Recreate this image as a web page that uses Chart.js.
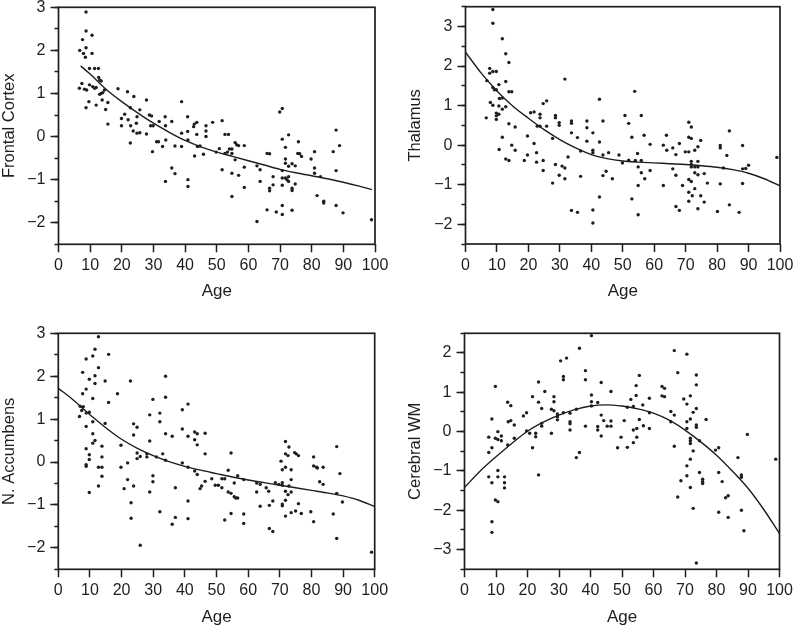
<!DOCTYPE html>
<html><head><meta charset="utf-8">
<script src="https://cdn.jsdelivr.net/npm/chart.js@4/dist/chart.umd.min.js"></script>
<style>
body{margin:0;background:#fff;width:794px;height:627px;position:relative;overflow:hidden}
canvas{position:absolute;display:block}
</style></head><body>
<canvas id="c1" width="406" height="313" style="left:0;top:0"></canvas>
<canvas id="c2" width="388" height="313" style="left:406px;top:0"></canvas>
<canvas id="c3" width="406" height="314" style="left:0;top:313px"></canvas>
<canvas id="c4" width="388" height="314" style="left:406px;top:313px"></canvas>
<script>
// ---------- DATA (age, z-score) ----------
const frontalPoints = [[8.7,2.89],[8.7,2.45],[7.6,2.25],[10.6,2.35],[6.7,2.0],[8.7,2.06],[7.9,1.93],[8.5,1.84],[10.6,1.93],[9.8,1.58],[11.4,1.58],[12.6,1.58],[6.6,1.12],[7.4,1.23],[8.2,1.10],[8.9,1.08],[9.8,1.20],[10.8,1.16],[11.4,1.12],[11.9,1.14],[9.6,0.81],[8.7,0.67],[11.9,0.73],[12.7,1.37],[13.0,1.31],[13.5,1.29],[13.0,0.98],[13.5,1.00],[14.0,1.02],[14.5,1.08],[13.8,0.85],[14.9,0.63],[15.6,0.79],[15.6,0.29],[18.8,1.11],[21.8,1.04],[23.8,0.93],[19.9,0.42],[20.9,0.52],[22.0,0.39],[22.7,0.67],[19.9,0.25],[22.8,0.25],[23.6,0.13],[22.7,-0.15],[24.8,0.46],[24.6,0.31],[24.8,0.08],[25.7,0.09],[25.7,0.62],[27.8,0.85],[27.8,0.06],[28.7,0.50],[29.4,0.48],[29.9,0.25],[29.1,0.25],[29.7,-0.35],[31.0,-0.12],[31.6,-0.12],[31.8,0.35],[32.9,-0.23],[33.7,0.46],[33.8,0.25],[33.9,-0.08],[33.8,-1.04],[35.8,0.35],[35.8,-0.73],[36.8,-0.86],[36.8,-0.22],[38.9,0.81],[38.9,0.08],[38.9,-0.23],[40.8,0.46],[40.8,0.12],[40.9,-0.08],[40.9,-1.00],[40.9,-1.16],[42.7,0.23],[42.9,0.29],[43.0,-0.45],[43.7,0.33],[43.7,0.05],[43.9,-0.23],
[46.6,0.25],[46.6,0.13],[46.6,0.0],[44.7,-0.22],[45.8,-0.41],[48.7,0.33],[49.8,-0.36],[50.8,-0.28],[51.7,0.37],[51.7,-0.77],[52.6,0.05],[53.7,0.05],[52.6,-0.39],[53.4,-0.36],[54.0,-0.29],[54.8,-0.29],[54.8,-0.39],[54.8,-0.85],[54.8,-1.39],[55.8,-0.14],[56.3,-0.19],[56.9,-0.21],[55.8,-0.54],[56.9,-0.90],[58.7,-0.21],[58.7,-0.71],[58.7,-1.18],[62.7,-0.68],[63.7,-0.77],[63.7,-1.04],[62.7,-1.97],[65.9,-1.70],[65.9,-0.39],[66.7,-0.40],[66.7,-1.20],[66.7,-1.26],[67.8,-0.93],[67.8,-1.12],[68.8,-1.75],[69.9,0.57],[70.7,0.65],[70.7,-0.06],[70.7,-0.79],[70.7,-0.96],[70.7,-1.13],[70.7,-1.60],[70.7,-1.81],[71.7,-0.25],[71.7,-0.52],[71.7,-0.62],[71.7,-0.96],[72.2,-1.00],[72.7,0.04],[72.7,-0.69],[72.7,-0.93],[72.7,-1.04],[73.8,-0.63],[73.8,-1.20],[73.8,-1.25],[73.8,-1.71],[74.8,-0.68],[74.8,-1.10],[75.8,-0.12],[75.6,-0.39],[76.2,-0.40],[76.8,-0.46],[79.8,-0.52],[80.9,-0.35],[80.9,-0.73],[80.9,-0.85],[81.7,-1.37],[82.8,-0.93],[83.8,-1.50],[83.8,-1.54],[86.8,-0.35],[87.7,0.15],[87.7,-0.79],[87.7,-1.60],[88.8,-0.21],[89.9,-1.77],[98.9,-1.93]];
const frontalFitAge = [7,10,15,20,25,30,35,40,45,50,55,60,65,70,75,80,85,90,95,99];
const frontalFitValue = [1.64,1.45,1.10,0.81,0.55,0.31,0.10,-0.09,-0.24,-0.36,-0.46,-0.56,-0.66,-0.76,-0.84,-0.91,-0.98,-1.06,-1.15,-1.23];

const thalamusPoints = [[8.7,3.43],[8.7,3.08],[11.7,2.69],[12.8,2.31],[13.8,2.09],[7.7,1.94],[7.7,1.82],[8.7,1.86],[9.8,1.86],[6.8,1.63],[12.8,1.61],[8.7,1.46],[9.2,1.40],[9.8,1.40],[10.6,1.53],[13.8,1.35],[14.7,1.35],[10.8,1.18],[11.7,1.19],[7.9,1.08],[8.7,1.01],[10.6,0.99],[11.7,0.91],[12.8,0.97],[9.8,0.81],[9.8,0.74],[10.6,0.78],[6.6,0.69],[9.8,0.65],[13.8,0.54],[15.8,0.46],[11.7,0.20],[10.7,-0.11],[14.7,0.0],[15.8,-0.13],[12.8,-0.35],[13.8,-0.39],[18.7,-0.39],[19.7,0.23],[19.7,-0.25],[20.7,0.82],[21.8,0.84],[21.8,0.04],[22.6,-0.19],[22.6,-0.43],[22.8,0.48],[23.7,0.48],[23.7,0.78],[23.7,0.69],[24.7,1.05],[25.8,1.12],[24.7,-0.39],[24.7,-0.64],[25.8,0.48],[27.7,0.17],[27.7,-0.96],[28.6,0.75],[28.6,0.69],[28.6,-0.49],[29.8,0.57],[29.8,0.50],[29.8,-0.76],[30.7,-0.53],[31.6,1.67],[31.6,-0.58],[31.6,-0.85],[32.6,-0.30],[33.7,0.61],[33.7,0.55],[33.7,0.31],[33.7,-1.65],[35.6,0.19],[35.6,-1.70],[36.6,-0.15],[36.6,-0.79],[38.6,0.61],[38.6,0.44],[38.6,0.10],[40.5,0.31],[40.5,-0.13],[40.5,-0.19],[40.5,-1.64],[40.5,-1.97],[42.6,1.16],[42.6,0.08],[42.6,-1.31],[43.7,0.61],[43.7,-0.25],[43.7,-0.77],[44.7,-0.66],[45.5,-0.19],
[46.7,-0.85],[48.8,-0.25],[49.9,-0.45],[50.7,0.75],[51.9,0.55],[51.9,-0.38],[52.9,0.20],[52.9,-1.36],[53.8,1.36],[54.0,-0.39],[54.7,-0.21],[54.9,-0.55],[54.9,-1.02],[54.9,-1.76],[55.9,0.75],[55.9,-0.39],[55.9,-0.70],[56.8,0.25],[57.0,-0.85],[58.7,0.02],[58.7,-0.64],[62.9,0.0],[62.9,-1.02],[63.9,0.25],[64.0,-0.13],[65.9,-0.07],[65.9,-0.60],[66.9,-0.24],[66.9,-0.76],[66.9,-1.55],[68.0,-1.65],[68.0,0.04],[69.0,-1.02],[69.9,-0.17],[71.0,0.58],[71.0,0.20],[71.0,-0.17],[71.0,-0.87],[71.0,-1.19],[71.0,-1.42],[71.8,0.46],[71.8,0.17],[71.8,-0.41],[71.8,-0.49],[71.8,-0.55],[71.8,-0.92],[72.1,-1.28],[72.9,-0.13],[72.9,-0.55],[72.9,-0.70],[72.9,-1.10],[73.9,-0.04],[73.9,-0.41],[73.9,-0.55],[73.9,-0.75],[73.9,-1.61],[74.8,0.12],[74.8,-1.28],[75.9,-0.72],[75.9,-1.44],[76.9,-0.96],[80.1,-1.68],[81.0,-0.01],[81.0,-0.07],[81.0,-0.98],[82.0,-0.58],[83.1,-0.26],[83.9,0.36],[83.9,-1.51],[87.0,-1.70],[88.1,-0.01],[88.1,-0.60],[88.1,-0.97],[89.1,-0.59],[90.0,-0.51],[99.0,-0.31]];
const fitAge = [0,5,10,15,20,25,30,35,40,45,50,55,60,65,70,75,80,85,90,95,100];
const thalamusFitValue = [2.35,1.82,1.37,0.99,0.68,0.39,0.14,-0.07,-0.24,-0.34,-0.40,-0.43,-0.45,-0.47,-0.49,-0.52,-0.56,-0.62,-0.71,-0.85,-1.03];

const accumbensPoints = [[12.7,2.92],[11.6,2.63],[10.9,2.47],[8.8,2.40],[15.9,2.51],[12.7,2.20],[7.7,2.09],[9.8,1.93],[11.6,2.01],[11.6,1.83],[14.8,1.89],[8.8,1.70],[7.7,1.59],[10.9,1.48],[15.9,1.39],[18.7,1.59],[6.9,1.30],[7.9,1.29],[6.7,1.06],[7.4,1.20],[8.8,1.14],[9.8,1.16],[10.9,0.94],[14.8,0.90],[8.8,0.83],[10.9,0.66],[11.6,0.50],[10.9,0.44],[8.8,0.31],[13.8,0.37],[9.8,0.17],[13.8,0.12],[8.8,-0.06],[8.8,-0.10],[9.8,0.06],[12.7,-0.12],[13.8,-0.12],[13.8,-0.33],[12.7,-0.56],[9.8,-0.71],[19.8,0.39],[19.8,-0.12],[20.8,-0.62],[21.9,-0.02],[21.9,-0.41],[22.8,1.89],[23.0,-0.95],[23.0,-1.31],[23.8,0.89],[23.8,0.63],[23.8,-0.56],[24.9,0.81],[24.9,0.21],[24.9,0.08],[25.9,0.13],[25.9,-1.94],[28.0,0.19],[28.0,0.12],[28.9,1.10],[28.9,0.49],[28.9,-0.70],[29.9,1.46],[29.9,-0.32],[29.9,-0.46],[31.0,0.12],[32.1,1.14],[32.1,0.94],[32.1,-1.16],[33.0,0.19],[33.9,2.00],[33.9,1.51],[33.9,0.66],[33.9,0.04],[36.0,0.60],[36.0,-1.45],[37.0,-0.60],[37.0,-1.29],[39.2,1.22],[39.2,0.77],[39.2,-0.02],[41.0,1.35],[41.0,0.60],[41.0,-0.12],[41.0,-0.91],[41.0,-1.32],[43.1,0.70],[43.1,0.52],[43.9,0.66],[43.9,0.40],[43.1,-0.21],[43.9,-0.29],[44.8,-0.62],
[46.4,0.67],[46.4,0.19],[45.3,-0.56],[46.4,-0.45],[48.5,-0.39],[49.6,-0.54],[50.6,-0.54],[51.7,-0.60],[51.7,-0.39],[52.6,-0.39],[52.6,-1.35],[53.7,-0.19],[53.7,-0.70],[54.6,0.21],[54.6,-0.73],[54.6,-1.20],[55.6,-0.49],[55.6,-0.81],[56.1,-0.84],[56.7,-0.32],[56.7,-0.84],[58.6,-0.41],[58.6,-1.21],[58.6,-1.43],[62.7,-0.49],[62.7,-0.70],[63.8,-0.52],[63.8,-1.03],[65.7,-0.60],[66.5,-0.68],[66.7,-1.01],[66.7,-1.55],[67.8,-0.91],[67.8,-1.62],[68.6,-0.48],[69.7,-0.52],[70.4,0.02],[70.8,-0.18],[70.8,-0.48],[70.8,-0.54],[70.8,-0.98],[70.8,-1.02],[71.8,0.48],[71.8,0.19],[71.8,-0.12],[71.8,-0.68],[71.8,-0.89],[71.8,-1.26],[72.6,0.15],[72.6,-0.76],[72.9,0.35],[72.9,-0.56],[73.6,-0.18],[73.6,-0.41],[73.6,-0.70],[73.6,-1.18],[74.7,0.22],[75.0,-1.14],[75.2,0.19],[75.9,0.15],[75.9,-0.97],[76.8,-1.20],[79.8,-1.16],[80.7,0.12],[80.7,-0.09],[80.7,-1.39],[81.6,-0.12],[81.9,-0.14],[82.6,-0.46],[83.7,-0.52],[83.7,-0.12],[86.9,-1.21],[88.0,0.36],[88.0,-0.73],[88.0,-1.78],[89.0,-0.27],[89.8,-0.93],[99.0,-2.10]];
const accumbensFitValue = [1.72,1.43,1.10,0.80,0.53,0.32,0.15,0.01,-0.10,-0.19,-0.27,-0.35,-0.42,-0.48,-0.54,-0.60,-0.66,-0.72,-0.79,-0.89,-1.04];

const whiteMatterPoints = [[7.7,-0.14],[7.7,-0.53],[7.7,-1.15],[8.7,0.32],[8.7,-0.41],[8.7,-1.30],[8.7,-2.29],[8.7,-2.56],[9.8,1.15],[9.8,-0.17],[9.8,-1.74],[10.6,0.0],[10.6,-0.20],[10.6,-0.99],[10.6,-1.15],[10.6,-1.78],[11.7,-0.11],[11.7,-0.23],[12.7,-1.15],[12.7,-1.30],[12.7,-1.43],[13.7,-0.34],[13.7,0.75],[13.9,0.25],[14.7,0.66],[14.7,0.28],[15.8,-0.17],[15.8,0.17],[18.7,0.40],[19.7,0.48],[19.7,0.02],[20.7,-0.04],[21.6,0.89],[21.6,-0.41],[22.6,-0.04],[22.6,-0.13],[23.5,1.26],[23.5,0.75],[23.5,-1.10],[24.5,0.59],[24.5,0.21],[24.5,0.14],[25.5,1.02],[27.6,0.57],[27.6,-0.04],[28.4,0.89],[28.4,0.76],[28.4,0.53],[29.5,0.45],[29.5,0.30],[29.5,0.38],[30.5,1.80],[31.4,1.40],[31.4,1.32],[32.4,1.87],[31.4,0.48],[33.5,0.47],[33.5,0.25],[33.5,0.20],[33.5,0.04],[35.5,0.57],[35.5,-0.66],[36.5,2.12],[36.5,-0.53],[38.4,1.55],[38.4,1.32],[38.4,0.14],[40.3,2.44],[40.3,0.93],[40.3,0.76],[40.3,0.65],[42.3,0.74],[42.3,0.13],[42.3,0.04],[43.4,1.25],[43.4,0.42],[43.4,-0.11],[44.2,0.28],[45.3,0.14],
[46.5,1.02],[46.5,0.27],[46.5,0.14],[48.6,-0.41],[49.7,-0.14],[50.7,0.28],[51.7,-0.40],[51.7,0.62],[52.8,0.82],[53.6,-0.28],[53.6,0.04],[53.6,0.64],[54.5,1.17],[54.5,0.92],[54.7,0.08],[54.7,-0.14],[55.5,1.43],[55.5,0.31],[56.6,0.68],[56.8,0.15],[58.7,0.85],[58.7,0.48],[58.7,0.08],[62.7,1.15],[63.5,1.10],[62.7,0.91],[63.5,0.89],[65.5,0.51],[65.5,0.25],[66.6,2.06],[66.6,0.42],[66.6,-0.37],[67.7,1.50],[67.7,-1.66],[68.7,-1.25],[69.6,0.83],[70.6,1.97],[70.6,0.70],[70.6,0.25],[70.6,0.08],[70.6,-0.87],[70.6,-1.12],[71.7,0.91],[71.7,0.32],[71.7,-0.17],[71.7,-0.23],[71.7,-0.30],[71.7,-0.70],[71.7,-1.42],[72.6,0.49],[72.6,-0.49],[72.6,-1.95],[73.6,1.44],[73.6,1.19],[73.6,0.59],[73.6,0.17],[73.6,0.11],[73.6,-3.34],[74.6,-0.23],[74.6,-1.04],[75.6,-1.21],[75.6,-1.27],[75.6,-1.32],[76.7,0.31],[79.7,-0.47],[80.7,-0.41],[80.7,-1.04],[80.7,-2.05],[81.8,-1.27],[82.9,-1.68],[83.7,-1.63],[83.7,-2.18],[86.8,-0.66],[87.9,-1.10],[87.9,-1.16],[87.9,-2.00],[88.7,-2.52],[89.8,-0.07],[98.8,-0.70]];
const whiteMatterFitValue = [-1.42,-1.00,-0.64,-0.30,0.01,0.24,0.42,0.56,0.65,0.68,0.65,0.58,0.47,0.29,0.04,-0.26,-0.60,-1.00,-1.44,-1.98,-2.59];

const xAxisTitle = 'Age';
const ageTicks = {min: 0, max: 100, step: 10};

// ---------- RENDERING ----------
const INK = '#1e1e1e';
const FAMILY = '"Liberation Sans", Arial, Helvetica, sans-serif';
const TICK_FONT = {family: FAMILY, size: 16};
const XTITLE_FONT = {family: FAMILY, size: 17};
const YTITLE_FONT = {family: FAMILY, size: 16.5};

const framePlugin = {
  id: 'frame',
  afterDraw(chart) {
    const a = chart.chartArea, c = chart.ctx;
    c.save();
    c.strokeStyle = INK;
    c.lineWidth = 1.7;
    c.strokeRect(a.left, a.top, a.right - a.left, a.bottom - a.top);
    c.restore();
  }
};

function fmt(v) {
  const r = Math.round(v);
  return r < 0 ? '\u2212' + Math.abs(r) : String(r);
}

function stepTicks(min, max, step) {
  const out = [];
  for (let v = Math.ceil(min / step) * step; v <= max + 1e-9; v += step) out.push({value: Math.round(v * 1000) / 1000});
  return out;
}

function makePanel(id, points, fitX, fitY, yMin, yMax, yTitle, g) {
  new Chart(document.getElementById(id), {
    type: 'scatter',
    data: {
      datasets: [
        {data: points.map(p => ({x: p[0], y: p[1]})), pointRadius: 1.7, pointBackgroundColor: INK, pointBorderWidth: 0, showLine: false},
        {type: 'line', data: fitX.map((x, i) => ({x, y: fitY[i]})), borderColor: INK, borderWidth: 1.4, pointRadius: 0, fill: false, cubicInterpolationMode: 'monotone'}
      ]
    },
    options: {
      responsive: false,
      animation: false,
      events: [],
      layout: {padding: {top: g.padTop, right: g.padRight, left: 0, bottom: 0}},
      plugins: {legend: {display: false}, tooltip: {enabled: false}},
      scales: {
        x: {
          type: 'linear', min: ageTicks.min, max: ageTicks.max,
          border: {display: false},
          grid: {drawOnChartArea: false, drawTicks: true, tickLength: 8, tickColor: INK, tickWidth: 1.5},
          ticks: {stepSize: ageTicks.step, autoSkip: false, maxRotation: 0, color: INK, font: TICK_FONT, padding: 4},
          title: {display: true, text: xAxisTitle, color: INK, font: XTITLE_FONT, padding: {top: 0, bottom: g.titlePad}},
          afterFit(s) { s.height = g.xAxisH; s.paddingLeft = 0; s.paddingRight = 0; }
        },
        y: {
          type: 'linear', position: 'left', weight: 1, min: yMin, max: yMax,
          border: {display: false},
          grid: {drawOnChartArea: false, drawTicks: true, tickLength: 8, tickColor: INK, tickWidth: 1.5},
          ticks: {autoSkip: false, color: INK, font: TICK_FONT, padding: 5, callback: v => fmt(v)},
          afterBuildTicks(s) { s.ticks = stepTicks(yMin, yMax, 1); },
          title: {display: true, text: yTitle, color: INK, font: YTITLE_FONT, padding: {top: 0, bottom: 0}},
          afterFit(s) { s.width = g.yAxisW; s.paddingTop = 0; s.paddingBottom = 0; }
        },
        yMinor: {
          type: 'linear', position: 'left', weight: 0, min: yMin, max: yMax,
          border: {display: false},
          grid: {drawOnChartArea: false, drawTicks: true, tickLength: 4, tickColor: INK, tickWidth: 1.5},
          ticks: {autoSkip: false, callback: () => ''},
          afterBuildTicks(s) { s.ticks = stepTicks(yMin, yMax, 0.5); },
          afterFit(s) { s.width = 0; s.paddingTop = 0; s.paddingBottom = 0; }
        }
      }
    },
    plugins: [framePlugin]
  });
}

makePanel('c1', frontalPoints, frontalFitAge, frontalFitValue, -2.5, 3, 'Frontal Cortex',
  {padTop: 7.3, padRight: 31, yAxisW: 58.5, xAxisH: 68.7, titlePad: 11.1});
makePanel('c2', thalamusPoints, fitAge, thalamusFitValue, -2.5, 3.5, 'Thalamus',
  {padTop: 6.7, padRight: 14, yAxisW: 59.5, xAxisH: 69, titlePad: 11.1});
makePanel('c3', accumbensPoints, fitAge, accumbensFitValue, -2.5, 3, 'N. Accumbens',
  {padTop: 20.3, padRight: 31.3, yAxisW: 58.3, xAxisH: 57.7, titlePad: -0.9});
makePanel('c4', whiteMatterPoints, fitAge, whiteMatterFitValue, -3.5, 2.5, 'Cerebral WM',
  {padTop: 20.3, padRight: 14.5, yAxisW: 58.5, xAxisH: 57.7, titlePad: -0.9});
</script>
</body></html>
